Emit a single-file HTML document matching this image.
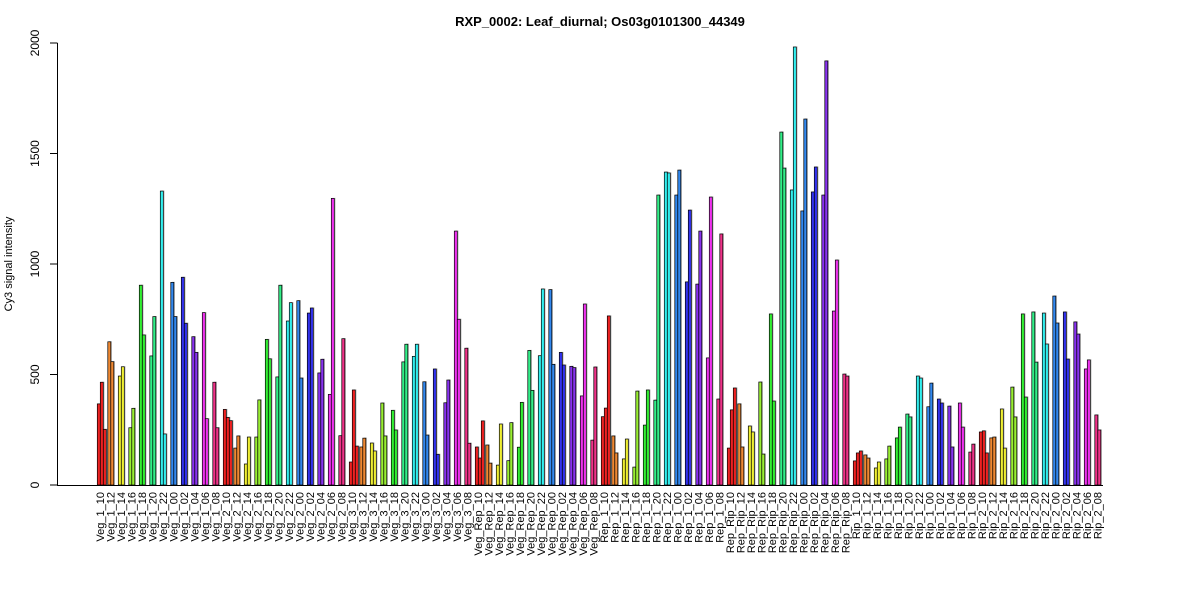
<!DOCTYPE html>
<html><head><meta charset="utf-8"><style>
body{margin:0;background:#fff}
svg{display:block;font-family:"Liberation Sans",Arial,sans-serif}
</style></head><body>
<svg id="s" width="1200" height="600" viewBox="0 0 1200 600" xmlns="http://www.w3.org/2000/svg">
<rect width="1200" height="600" fill="#fff"/>
<text x="600" y="26" text-anchor="middle" font-size="13" font-weight="bold">RXP_0002: Leaf_diurnal; Os03g0101300_44349</text>
<g stroke="#000" stroke-width="1">
<line x1="57.5" y1="43" x2="57.5" y2="485"/>
<line x1="50" y1="485" x2="57.5" y2="485"/>
<line x1="50" y1="374.5" x2="57.5" y2="374.5"/>
<line x1="50" y1="264" x2="57.5" y2="264"/>
<line x1="50" y1="153.5" x2="57.5" y2="153.5"/>
<line x1="50" y1="43" x2="57.5" y2="43"/>
</g>
<g font-size="12" text-anchor="middle">
<text transform="translate(39,485) rotate(-90)">0</text>
<text transform="translate(39,374.5) rotate(-90)">500</text>
<text transform="translate(39,264) rotate(-90)">1000</text>
<text transform="translate(39,153.5) rotate(-90)">1500</text>
<text transform="translate(39,43) rotate(-90)">2000</text>
<text transform="translate(12,264) rotate(-90)" font-size="11">Cy3 signal intensity</text>
</g>
<g id="bars"></g>
<line x1="57" y1="485.5" x2="1103" y2="485.5" stroke="#000" stroke-width="1"/>
<g id="labs" font-size="11" text-anchor="end">
<text>Veg_1_10</text><text>Veg_1_12</text><text>Veg_1_14</text><text>Veg_1_16</text><text>Veg_1_18</text><text>Veg_1_20</text><text>Veg_1_22</text><text>Veg_1_00</text><text>Veg_1_02</text><text>Veg_1_04</text><text>Veg_1_06</text><text>Veg_1_08</text>
<text>Veg_2_10</text><text>Veg_2_12</text><text>Veg_2_14</text><text>Veg_2_16</text><text>Veg_2_18</text><text>Veg_2_20</text><text>Veg_2_22</text><text>Veg_2_00</text><text>Veg_2_02</text><text>Veg_2_04</text><text>Veg_2_06</text><text>Veg_2_08</text>
<text>Veg_3_10</text><text>Veg_3_12</text><text>Veg_3_14</text><text>Veg_3_16</text><text>Veg_3_18</text><text>Veg_3_20</text><text>Veg_3_22</text><text>Veg_3_00</text><text>Veg_3_02</text><text>Veg_3_04</text><text>Veg_3_06</text><text>Veg_3_08</text>
<text>Veg_Rep_10</text><text>Veg_Rep_12</text><text>Veg_Rep_14</text><text>Veg_Rep_16</text><text>Veg_Rep_18</text><text>Veg_Rep_20</text><text>Veg_Rep_22</text><text>Veg_Rep_00</text><text>Veg_Rep_02</text><text>Veg_Rep_04</text><text>Veg_Rep_06</text><text>Veg_Rep_08</text>
<text>Rep_1_10</text><text>Rep_1_12</text><text>Rep_1_14</text><text>Rep_1_16</text><text>Rep_1_18</text><text>Rep_1_20</text><text>Rep_1_22</text><text>Rep_1_00</text><text>Rep_1_02</text><text>Rep_1_04</text><text>Rep_1_06</text><text>Rep_1_08</text>
<text>Rep_Rip_10</text><text>Rep_Rip_12</text><text>Rep_Rip_14</text><text>Rep_Rip_16</text><text>Rep_Rip_18</text><text>Rep_Rip_20</text><text>Rep_Rip_22</text><text>Rep_Rip_00</text><text>Rep_Rip_02</text><text>Rep_Rip_04</text><text>Rep_Rip_06</text><text>Rep_Rip_08</text>
<text>Rip_1_10</text><text>Rip_1_12</text><text>Rip_1_14</text><text>Rip_1_16</text><text>Rip_1_18</text><text>Rip_1_20</text><text>Rip_1_22</text><text>Rip_1_00</text><text>Rip_1_02</text><text>Rip_1_04</text><text>Rip_1_06</text><text>Rip_1_08</text>
<text>Rip_2_10</text><text>Rip_2_12</text><text>Rip_2_14</text><text>Rip_2_16</text><text>Rip_2_18</text><text>Rip_2_20</text><text>Rip_2_22</text><text>Rip_2_00</text><text>Rip_2_02</text><text>Rip_2_04</text><text>Rip_2_06</text><text>Rip_2_08</text>
</g>
</svg>
<script>
var D=[
[367,465,252],[648,558],[493,535],[259,347],[904,679],[584,762],[1330,231],[917,762],[940,732],[671,600],[780,300],[465,259],
[342,306,291],[167,222],[95,217],[217,385],[659,571],[489,904],[742,825],[834,484],[778,801],[507,569],[410,1297],[223,662],
[104,430,176],[172,212],[190,154],[371,222],[338,249],[557,637],[582,637],[467,226],[525,139],[372,475],[1149,750],[619,189],
[172,122,290],[181,99],[90,276],[110,282],[171,374],[609,428],[585,887],[884,546],[600,543],[537,531],[403,819],[203,534],
[309,348,765],[222,145],[118,208],[81,425],[271,430],[384,1312],[1416,1412],[1312,1425],[919,1244],[909,1149],[575,1303],[389,1136],
[167,340,439],[367,172],[267,240],[466,140],[774,380],[1597,1434],[1335,1982],[1240,1656],[1326,1439],[1312,1919],[787,1018],[502,493],
[109,145,154],[136,122],[77,104],[118,176],[213,262],[321,308],[493,484],[354,461],[389,371],[357,172],[371,262],[149,185],
[240,245,145],[213,217],[344,167],[443,308],[774,398],[783,556],[778,638],[855,733],[783,570],[738,683],[525,566],[317,249]];
var C=["#ee2222","#ee8833","#eeee33","#99ee33","#33ee33","#33ee88","#33eeee","#3388ee","#3333ee","#8833ee","#ee33ee","#ee3388"];
var g=document.getElementById("bars"),sh="",br="";
D.forEach(function(a,i){var L=97.3+10.5*i;a.forEach(function(v,j){var x=L+3*j,h=v*0.221,y=485-h;
sh+='<rect x="'+(x+1.2)+'" y="'+(y-0.5)+'" width="3" height="'+(h+0.5)+'" fill="#bbb"/>';
br+='<rect x="'+x+'" y="'+y+'" width="3" height="'+h+'" fill="'+C[i%12]+'" stroke="#000" stroke-width="0.7"/>';});});
g.innerHTML=sh+br;
var t=document.getElementById("labs").getElementsByTagName("text");
for(var i=0;i<t.length;i++){var c=100+10.5*i+4;t[i].setAttribute("transform","translate("+c+",492) rotate(-90)");}
</script>
</body></html>
